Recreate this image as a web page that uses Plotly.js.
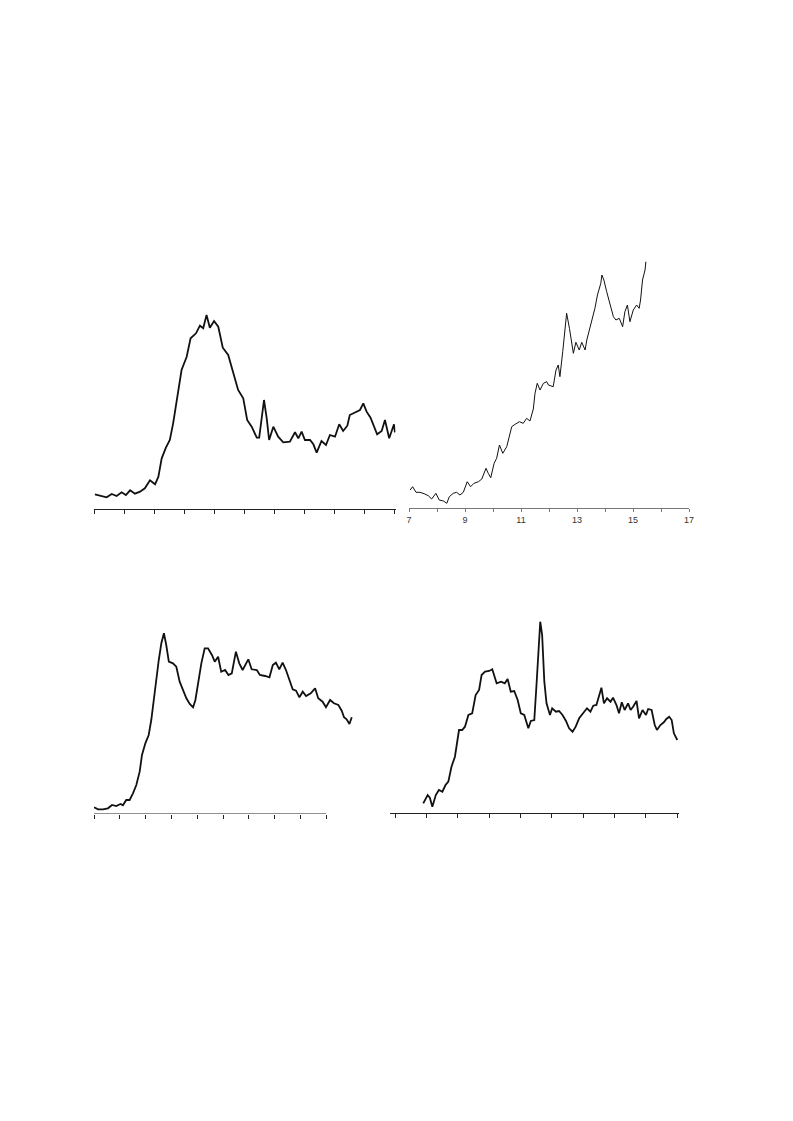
<!DOCTYPE html>
<html>
<head>
<meta charset="utf-8">
<script src="https://cdn.plot.ly/plotly-3.0.1.min.js"></script>
<style>html,body{margin:0;padding:0;background:#fff;}#chart{width:793px;height:1121px;}</style>
</head>
<body>
<div id="chart"></div>
<script>
// Panel A (top left)
const xA = [0.03,0.20,0.42,0.59,0.75,0.92,1.06,1.20,1.36,1.53,1.69,1.86,2.03,2.14,2.25,2.39,2.52,2.63,2.77,2.91,3.08,3.21,3.39,3.52,3.63,3.74,3.85,3.99,4.13,4.28,4.46,4.63,4.79,4.96,5.09,5.24,5.41,5.49,5.65,5.74,5.82,5.96,6.12,6.29,6.51,6.68,6.79,6.90,7.01,7.18,7.29,7.40,7.56,7.71,7.84,8.01,8.15,8.28,8.42,8.50,8.67,8.84,8.95,9.06,9.19,9.30,9.41,9.56,9.67,9.81,9.89,9.97,10.0];
const yA = [14.7,13.3,11.7,15,13,16.7,14,18.7,15.3,17.3,20.7,28.7,24.7,32.3,50.7,61.3,69,85.7,110.7,139,152.3,170.7,175.7,183.3,180.7,194,181.3,188,182.3,161.3,154,135.7,119,110.7,89,82.3,71.3,71.3,109,90.7,69,82.3,72.3,66.7,67.3,76.7,70.7,77.3,69,69,64.7,56.3,68,64,74,72.3,84.7,78,83.3,94,96.7,99,105.7,97.3,91.3,82.3,74.7,78,89,70.7,77.3,84.7,76.7];
const ticksA = [0,1,2,3,4,5,6,7,8,9,10];

// Panel B (top right)
const xB = [7.04,7.13,7.25,7.39,7.54,7.69,7.81,7.96,8.08,8.23,8.35,8.44,8.58,8.70,8.82,8.94,9.08,9.20,9.32,9.48,9.60,9.75,9.83,9.92,10.04,10.13,10.23,10.35,10.49,10.67,10.79,10.94,11.08,11.20,11.32,11.44,11.50,11.58,11.68,11.80,11.92,11.98,12.15,12.25,12.33,12.39,12.49,12.57,12.63,12.73,12.81,12.87,12.96,13.08,13.17,13.29,13.35,13.44,13.53,13.64,13.73,13.85,13.89,13.96,14.06,14.18,14.30,14.39,14.51,14.63,14.71,14.80,14.89,15.01,15.13,15.22,15.27,15.34,15.43,15.46];
const yB = [18,21.3,15.7,15.7,14.3,12.3,9,14.7,8,7,4.7,11.3,14.7,15.7,13,15.7,26.3,21.3,24.7,26.3,29,39.7,34.7,30.3,44.7,49.7,63,54.7,61.3,81.3,83.7,86.3,84.7,89.7,87,99,114.7,124.7,118,124.7,126.3,123,121.3,138,143,131.3,156.3,176.3,194.7,179.7,163,154.7,165.7,158,165.7,158,168,178,186.3,199.7,213,224.7,233,228,216.3,204.7,191.3,188,189.7,181.3,196.3,203,186.3,198,203,199.7,208,228,238,246.3];
const ticksB = [7,9,11,13,15,17];
const minorTicksB = 1;

// Panel C (bottom left)
const xC = [0,0.16,0.35,0.54,0.70,0.86,1.03,1.12,1.25,1.38,1.51,1.64,1.77,1.86,1.99,2.12,2.22,2.33,2.41,2.51,2.61,2.71,2.80,2.90,3.06,3.19,3.32,3.45,3.58,3.71,3.84,3.93,4.03,4.16,4.29,4.42,4.57,4.68,4.81,4.93,5.08,5.21,5.34,5.50,5.63,5.76,5.98,6.11,6.31,6.43,6.63,6.80,6.93,7.05,7.18,7.31,7.44,7.57,7.70,7.83,7.96,8.09,8.22,8.40,8.57,8.69,8.86,8.99,9.15,9.30,9.47,9.60,9.69,9.79,9.90,9.99];
const yC = [6.7,4.7,4.7,5.7,9,8,10,8.7,14,14,20.7,29,42.3,59,70.7,79,94,117.3,135.7,154,170.7,180.7,169,152.3,150.7,147.3,132.3,124,115.7,110,106.7,114,129,150.7,165.7,165.7,159,152.3,157.3,142.3,144,139,140.7,162.3,150.7,144,154.7,144.7,144,139,138,136.7,149,151.3,144.7,151.3,144,134,124.7,123.3,116.7,122.3,118,120.7,125.7,115.7,112.3,106.7,114,110.7,109,103.3,96.7,94.7,90,96.7];
const ticksC = [0,1,2,3,4,5,6,7,8,9];

// Panel D (bottom right)
const xD = [0.90,1.04,1.11,1.19,1.30,1.40,1.51,1.61,1.70,1.80,1.91,2.00,2.04,2.14,2.23,2.34,2.46,2.57,2.68,2.76,2.87,3.00,3.10,3.24,3.38,3.50,3.59,3.69,3.80,3.91,4.01,4.12,4.25,4.33,4.44,4.51,4.57,4.63,4.69,4.76,4.83,4.94,5.01,5.13,5.23,5.34,5.45,5.55,5.66,5.76,5.87,6.00,6.12,6.23,6.32,6.42,6.51,6.58,6.66,6.76,6.87,6.95,7.06,7.14,7.23,7.32,7.43,7.51,7.59,7.70,7.78,7.89,8.00,8.07,8.18,8.28,8.35,8.46,8.57,8.65,8.74,8.82,8.89,8.95,9.00];
const yD = [9.7,18,15.3,6.3,18,23,21.3,28,31.3,46.3,56.3,73,83,83,86.3,98,99.7,118,123,138,141.3,142,143.7,129.7,131.3,129.7,134,121.3,122,113,99.7,98,84.7,92,93,128,164.7,191.3,178,131.3,109.7,98,104.7,101.3,102,98,92,84.7,81.3,86.3,94.7,99.7,104.7,101.3,107.3,108,118,125.3,109.7,114.7,111.3,115.3,108,99.7,110.7,103,109.7,103,106.3,112,94.7,103,98,104,103,88,83,88,90.7,94,96.3,93,79.7,75.3,73];
const ticksD = [0,1,2,3,4,5,6,7,8,9];

const lineThick = {color:'#111', width:1.8};
const lineThin = {color:'#111', width:1};

const traces = [
  {x:xA, y:yA, xaxis:'x', yaxis:'y', mode:'lines', line:lineThick, hoverinfo:'skip'},
  {x:xB, y:yB, xaxis:'x2', yaxis:'y2', mode:'lines', line:lineThin, hoverinfo:'skip'},
  {x:xC, y:yC, xaxis:'x3', yaxis:'y3', mode:'lines', line:lineThick, hoverinfo:'skip'},
  {x:xD, y:yD, xaxis:'x4', yaxis:'y4', mode:'lines', line:lineThick, hoverinfo:'skip'}
];

const W = 793, H = 1121;
const fx = p => p / W;
const fy = p => 1 - p / H;

const baseX = {showgrid:false, zeroline:false, showline:true, linecolor:'#222', linewidth:1,
  ticks:'outside', ticklen:4, tickwidth:1, tickcolor:'#222', showticklabels:false, fixedrange:true};
const baseY = {visible:false, fixedrange:true};

const layout = {
  width:W, height:H,
  margin:{l:0,r:0,t:0,b:0},
  paper_bgcolor:'#fff', plot_bgcolor:'rgba(0,0,0,0)',
  showlegend:false,
  xaxis: Object.assign({}, baseX, {domain:[fx(94), fx(395.5)], range:[0,10.02], tickmode:'array', tickvals:ticksA, anchor:'y'}),
  yaxis: Object.assign({}, baseY, {domain:[fy(509), fy(299)], range:[0,210], anchor:'x'}),
  xaxis2: Object.assign({}, baseX, {domain:[fx(409), fx(689)], range:[7,17], tickmode:'array', tickvals:ticksB,
    ticktext:ticksB.map(String), showticklabels:true, linecolor:'#777', tickcolor:'#777', ticklen:3,
    tickfont:{family:'Liberation Sans, Arial, sans-serif', size:9, color:'#333'},
    minor:{dtick:minorTicksB, ticks:'outside', ticklen:3, tickcolor:'#777', showgrid:false}, anchor:'y2'}),
  yaxis2: Object.assign({}, baseY, {domain:[fy(508), fy(258)], range:[0,250], anchor:'x2'}),
  xaxis3: Object.assign({}, baseX, {domain:[fx(94), fx(354.6)], range:[0,10.1], showline:false, tickmode:'array', tickvals:ticksC, anchor:'y3'}),
  yaxis3: Object.assign({}, baseY, {domain:[fy(814), fy(624)], range:[0,190], anchor:'x3'}),
  xaxis4: Object.assign({}, baseX, {domain:[fx(390), fx(678.9)], range:[-0.16,9.05], tickmode:'array', tickvals:ticksD, anchor:'y4'}),
  yaxis4: Object.assign({}, baseY, {domain:[fy(813), fy(613)], range:[0,200], anchor:'x4'}),
  shapes:[
    {type:'line', xref:'x3', yref:'y3', x0:ticksC[0], x1:ticksC[ticksC.length-1], y0:0, y1:0,
     line:{color:'#222', width:1}, layer:'above'}
  ]
};

Plotly.newPlot('chart', traces, layout, {staticPlot:true, displayModeBar:false});
</script>
</body>
</html>
